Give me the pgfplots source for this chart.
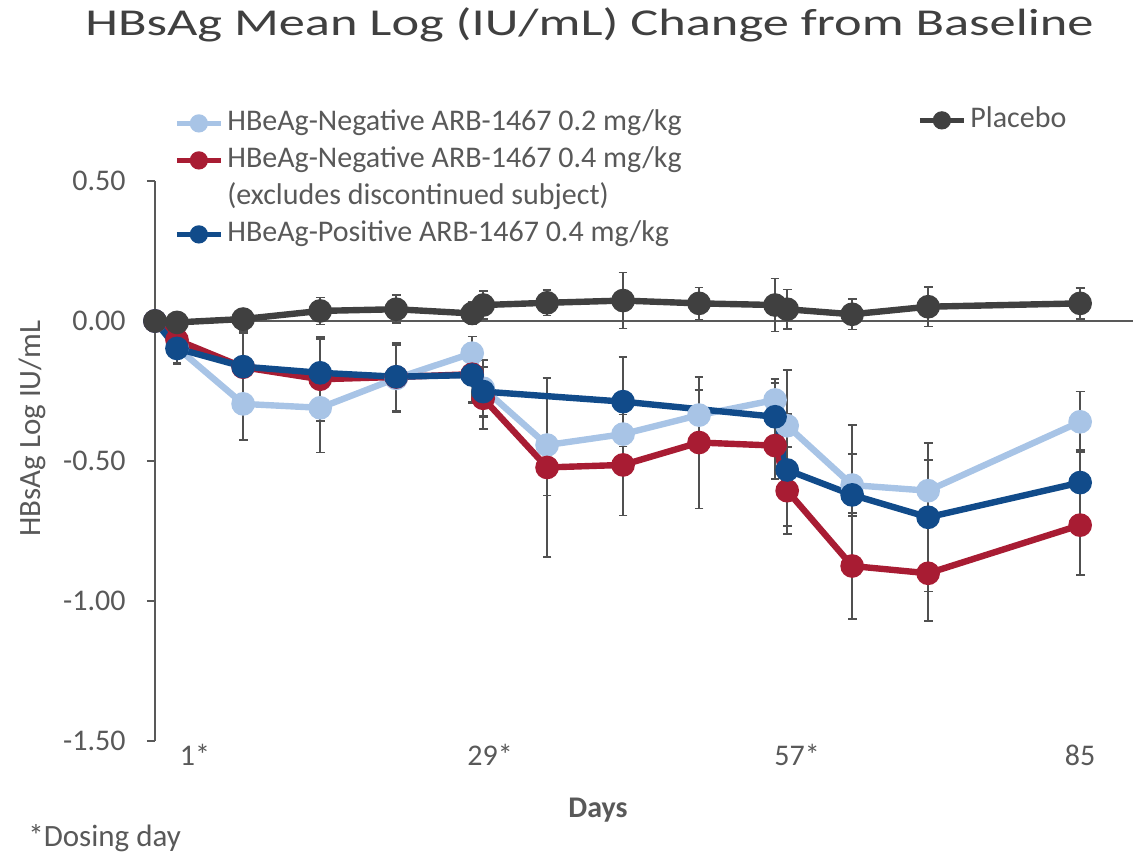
\documentclass[border=0pt]{standalone}
\usepackage{pgfplots}
\pgfplotsset{compat=1.18}
\usepackage{pgfplotstable}
\usepackage{fontspec}
\setmainfont{Carlito}
\newfontfamily\titlefont{Carlito}[FakeStretch=1.38]
\definecolor{lblue}{HTML}{A8C4E6}
\definecolor{dred}{HTML}{A81C33}
\definecolor{dblue}{HTML}{114B8A}
\definecolor{pgray}{HTML}{404040}
\definecolor{egray}{HTML}{505050}
\definecolor{axgray}{HTML}{595959}
\definecolor{txtgray}{HTML}{595959}

\pgfplotstableread{
x y e
1 0 0
3 -0.005 0.01
9 0.007 0.015
16 0.036 0.048
22.9 0.042 0.05
29.8 0.027 0.04
30.8 0.057 0.05
36.6 0.065 0.046
43.5 0.073 0.1
50.4 0.063 0.057
57.3 0.057 0.095
58.4 0.042 0.07
64.3 0.024 0.055
71.2 0.051 0.07
85 0.063 0.055
}\placebo

\pgfplotstableread{
x y e
1 0 0
3 -0.095 0.055
9 -0.296 0.13
16 -0.31 0.16
22.9 -0.205 0.12
29.8 -0.115 0.06
30.8 -0.24 0.1
36.6 -0.443 0.18
43.5 -0.404 0.12
50.4 -0.336 0.09
57.3 -0.282 0.075
58.4 -0.374 0.2
64.3 -0.586 0.11
71.2 -0.606 0.11
85 -0.36 0.108
}\lowdose

\pgfplotstableread{
x y e
1 0 0
3 -0.068 0.05
9 -0.165 0.13
16 -0.208 0.15
22.9 -0.2 0.12
29.8 -0.19 0.1
30.8 -0.276 0.11
36.6 -0.523 0.32
43.5 -0.514 0.18
50.4 -0.434 0.235
57.3 -0.445 0.12
58.4 -0.606 0.155
64.3 -0.875 0.19
71.2 -0.901 0.17
85 -0.729 0.178
}\highneg

\pgfplotstableread{
x y e
1 0 0
3 -0.098 0.055
9 -0.163 0.12
16 -0.185 0.12
22.9 -0.199 0.12
29.8 -0.193 0.1
30.8 -0.252 0.09
43.5 -0.288 0.16
57.3 -0.342 0.12
58.4 -0.532 0.2
64.3 -0.621 0.25
71.2 -0.701 0.265
85 -0.577 0.116
}\highpos

\pgfplotsset{
  mybase/.style={
    at={(0pt,0pt)}, anchor=south west,
    scale only axis, width=489pt, height=280pt,
    xmin=1, xmax=89.8, ymin=-1.5, ymax=0.5,
  },
  legend image code/.code={\draw[mark repeat=2, mark phase=2, #1] plot coordinates {(0pt,0pt) (11pt,0pt) (22pt,0pt)};},
  myleg/.style={
    legend style={draw=none, fill=none, font=\fontsize{15}{18}\selectfont, text=txtgray,
      row sep=0pt, inner sep=0pt,
      nodes={inner sep=2pt, text height=11pt, text depth=3.5pt},
      /tikz/every even column/.append style={column sep=3pt}},
    legend cell align=left,
  },
  ser/.style={line width=3.2pt, mark=*, mark size=4.3pt, mark options={fill=#1, draw=#1}, color=#1,
    error bars/.cd, y dir=both, y explicit,
    error bar style={line width=0.8pt, draw=egray},
    error mark options={rotate=90, mark size=2.2pt, line width=0.8pt, draw=egray}},
  legimg/.style={#1, line width=2.5pt, mark=*, mark size=3.3pt, mark options={fill=#1, draw=#1}},
}

\begin{document}
\begin{tikzpicture}
\useasboundingbox (-77.5pt,-55.5pt) rectangle (489pt,370.5pt);
\begin{axis}[mybase, myleg,
  clip=false,
  axis y line*=left, axis x line*=bottom,
  x axis line style={draw=none},
  y axis line style={axgray, line width=1pt},
  xtick={4.63,31.42,59.3,85}, xticklabels={1*,29*,57*,85},
  xtick style={draw=none},
  xticklabel style={anchor=center, yshift=-3pt},
  ytick={-1.5,-1,-0.5,0,0.5}, yticklabels={-1.50,-1.00,-0.50,0.00,0.50},
  tick align=outside, major tick length=4pt,
  ytick style={axgray, line width=1pt},
  yticklabel style={anchor=east, inner sep=0pt, xshift=-10.5pt},
  extra y ticks={0}, extra y tick labels={},
  extra y tick style={grid=major, major grid style={axgray, line width=1pt}, major tick length=0pt},
  tick label style={font=\fontsize{15}{18}\selectfont, text=txtgray},
  ylabel={HBsAg Log IU/mL},
  ylabel style={at={(axis description cs:-0.1258,0.558)}, anchor=center, font=\fontsize{15.5}{18}\selectfont, text=txtgray},
  legend style={at={(axis description cs:0.0194,1.1366)}, anchor=north west},
]
\addlegendimage{legimg=lblue}
\addlegendentry{HBeAg-Negative ARB-1467 0.2 mg/kg}
\addlegendimage{legimg=dred}
\addlegendentry{HBeAg-Negative ARB-1467 0.4 mg/kg}
\addlegendimage{empty legend}
\addlegendentry{(excludes discontinued subject)}
\addlegendimage{legimg=dblue}
\addlegendentry{HBeAg-Positive ARB-1467 0.4 mg/kg}

\addplot[forget plot, ser=lblue] table[x=x, y=y, y error=e] {\lowdose};
\addplot[forget plot, ser=dred] table[x=x, y=y, y error=e] {\highneg};
\addplot[forget plot, ser=dblue] table[x=x, y=y, y error=e] {\highpos};
\addplot[forget plot, ser=pgray] table[x=x, y=y, y error=e] {\placebo};
\end{axis}

\begin{axis}[mybase, myleg, hide axis,
  legend style={at={(axis description cs:0.7791,1.142)}, anchor=north west}]
\addlegendimage{legimg=pgray}
\addlegendentry{Placebo}
\end{axis}

\node[anchor=base, font=\titlefont\fontsize{19}{22}\selectfont, text=pgray] at (217.25pt,352.5pt) {HBsAg Mean Log (IU/mL) Change from Baseline};
\node[font=\bfseries\fontsize{15}{18}\selectfont, text=txtgray] at (221.5pt,-34.5pt) {Days};
\node[anchor=west, inner sep=0pt, font=\fontsize{15.5}{18}\selectfont, text=txtgray] at (-63.5pt,-48.5pt) {*Dosing day};
\end{tikzpicture}
\end{document}
